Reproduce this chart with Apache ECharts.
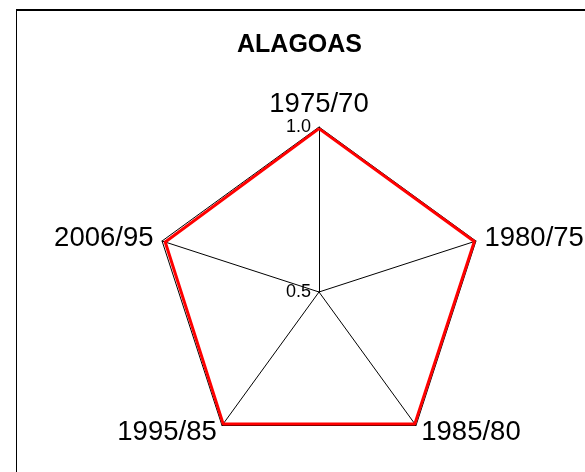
<!DOCTYPE html>
<html>
<head>
<meta charset="utf-8">
<script src="https://cdn.jsdelivr.net/npm/echarts@6/dist/echarts.min.js"></script>
<style>
  html, body { margin: 0; padding: 0; background: #fff; }
  #main { width: 585px; height: 472px; }
</style>
</head>
<body>
<div id="main"></div>
<script>
var periods = ['1975/70', '1980/75', '1985/80', '1995/85', '2006/95'];
var ratios = [0.995, 0.995, 0.994, 0.994, 0.99];
var axisMin = 0.5;
var axisMax = 1.0;

var chartDom = document.getElementById('main');
var myChart = echarts.init(chartDom);
var font = 'Liberation Sans, Arial, sans-serif';

// radar goes counter-clockwise, the original goes clockwise: reverse all but the first
var order = [0].concat(periods.map(function (p, i) { return i; }).slice(1).reverse());

var indicators = order.map(function (i) {
    var ind = { name: periods[i], min: axisMin, max: axisMax };
    if (i === 0) {
        ind.axisLabel = {
            show: true,
            color: '#000',
            fontSize: 18,
            fontFamily: font,
            margin: 8,
            formatter: function (v) { return v.toFixed(1); }
        };
    }
    return ind;
});
var values = order.map(function (i) { return ratios[i]; });

var option = {
    backgroundColor: '#fff',
    animation: false,
    title: {
        text: 'ALAGOAS',
        left: 237,
        top: 33,
        padding: 0,
        textStyle: { fontSize: 25, fontWeight: 'bold', color: '#000', fontFamily: font }
    },
    graphic: [
        { type: 'line', shape: { x1: 16, y1: 10, x2: 585, y2: 10 }, style: { stroke: '#000', lineWidth: 2 } },
        { type: 'line', shape: { x1: 16.5, y1: 9, x2: 16.5, y2: 472 }, style: { stroke: '#000', lineWidth: 1 } }
    ],
    radar: {
        center: [319, 292],
        radius: 165,
        startAngle: 90,
        shape: 'polygon',
        splitNumber: 1,
        indicator: indicators,
        axisName: { color: '#000', fontSize: 27.5, fontFamily: font },
        nameGap: 9,
        axisLine: { lineStyle: { color: '#000', width: 1 } },
        splitLine: { lineStyle: { color: '#000', width: 1 } },
        splitArea: { show: false },
        axisTick: { show: false },
        axisLabel: { show: false }
    },
    series: [
        {
            type: 'radar',
            symbol: 'none',
            data: [
                { value: values, lineStyle: { color: '#ff0000', width: 3 } }
            ]
        }
    ]
};

myChart.setOption(option);
</script>
</body>
</html>
